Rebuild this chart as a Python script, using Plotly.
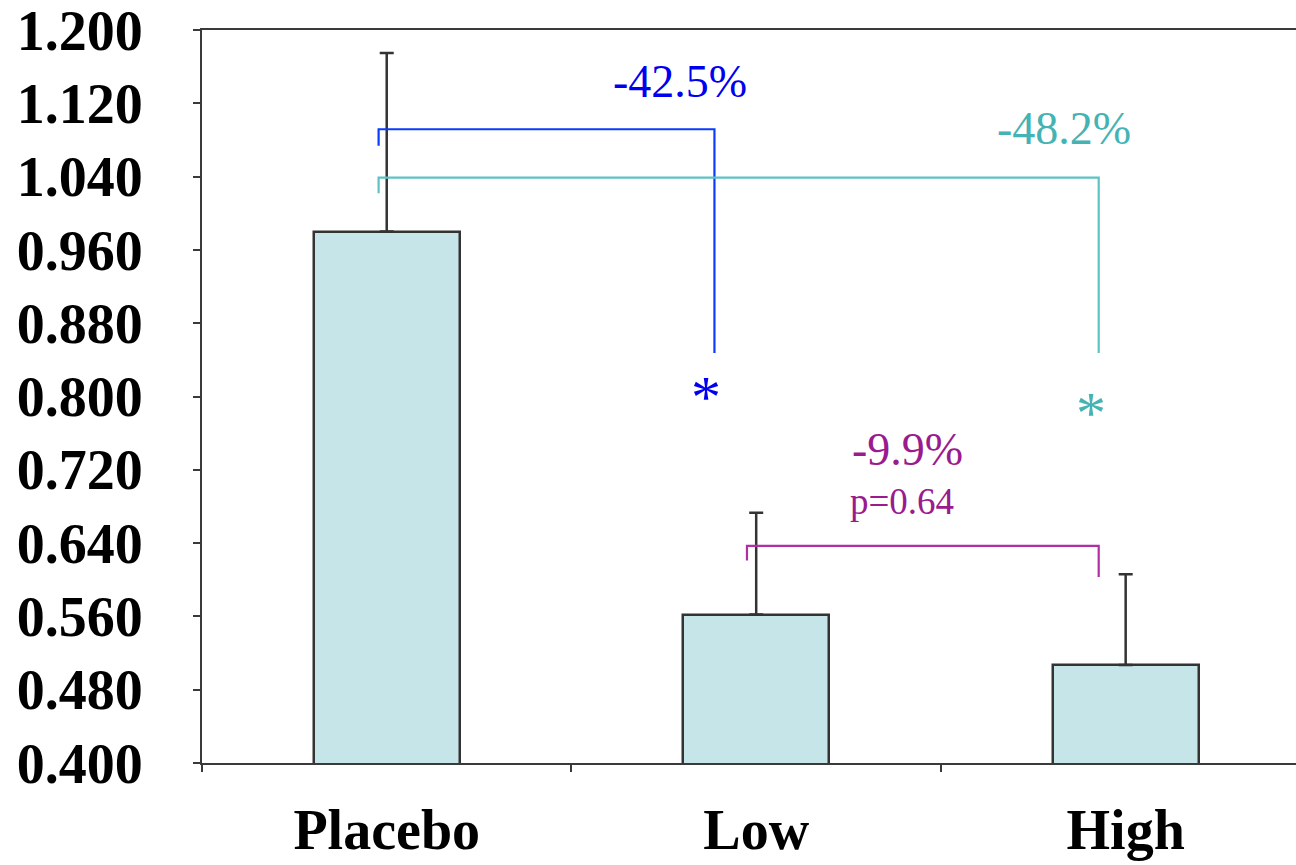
import plotly.graph_objects as go

# Group means and upper error (SEM) per treatment arm
categories = ["Placebo", "Low", "High"]
means = [0.980, 0.562, 0.507]
err_upper = [0.195, 0.111, 0.099]

# Percent-change comparisons between arms
pct_labels = ["-42.5%", "-48.2%", "-9.9%"]
p_label = "p=0.64"

BLUE_TXT, BLUE_LN = "#0000F0", "#0a3cff"
TEAL_TXT, TEAL_LN = "#45b3b3", "#5cc3c3"
PURP_TXT, PURP_LN = "#9a1b8e", "#b02fa5"
AXIS = "#3a3a3a"

fig = go.Figure()
fig.add_trace(go.Bar(
    x=categories,
    y=means,
    width=0.395,
    marker=dict(color="#c6e5e8", line=dict(color="#333333", width=2.5)),
    error_y=dict(type="data", symmetric=False, array=err_upper,
                 arrayminus=[0, 0, 0], color="#333333", thickness=2.5, width=7),
    showlegend=False,
))

# Comparison brackets: (x_left, drop_left, x_right, drop_right, y_top, colour)
# x positions are category indices with small offsets
brackets = [
    (-0.022, 1.0738, 0.887, 0.8476, 1.0917, BLUE_LN),
    (-0.022, 1.0218, 1.927, 0.8476, 1.0389, TEAL_LN),
    (0.975, 0.621, 1.927, 0.603, 0.637, PURP_LN),
]
for x0, y0, x1, y1, ytop, col in brackets:
    fig.add_shape(type="path",
                  path=f"M {x0} {y0} L {x0} {ytop} L {x1} {ytop} L {x1} {y1}",
                  xref="x", yref="y", line=dict(color=col, width=2.2))

serif = "Liberation Serif"
texts = [
    (0.793, 1.1433, pct_labels[0], BLUE_TXT, 46),
    (1.832, 1.092, pct_labels[1], TEAL_TXT, 46),
    (1.410, 0.7418, pct_labels[2], PURP_TXT, 46),
    (1.395, 0.685, p_label, PURP_TXT, 37),
    (0.865, 0.800, "*", BLUE_TXT, 60),
    (1.905, 0.782, "*", TEAL_TXT, 60),
]
for x, y, t, col, sz in texts:
    fig.add_annotation(x=x, y=y, text=t, showarrow=False, xref="x", yref="y",
                       xanchor="center", yanchor="middle",
                       font=dict(family=serif, size=sz, color=col))

fig.update_layout(
    width=1296, height=865,
    margin=dict(l=202, r=0, t=30, b=102, autoexpand=False),
    plot_bgcolor="white", paper_bgcolor="white",
    bargap=0.0,
)
fig.update_xaxes(
    type="category", range=[-0.5, 2.461], automargin=False,
    showline=True, linecolor=AXIS, linewidth=2, mirror=True,
    ticks="outside", tickson="boundaries", ticklen=7, tickcolor=AXIS, tickwidth=1.5,
    tickfont=dict(family=serif, size=56, color="black", weight="bold"),
    ticklabelstandoff=17, ticklabeloverflow="allow",
    showgrid=False, zeroline=False,
)
fig.update_yaxes(
    range=[0.4, 1.2], dtick=0.08, tick0=0.4, tickformat=".3f", automargin=False,
    showline=True, linecolor=AXIS, linewidth=2, mirror=False,
    ticks="outside", ticklen=7, tickcolor=AXIS, tickwidth=1.5,
    tickfont=dict(family=serif, size=56, color="black", weight="bold"),
    ticklabelstandoff=39, ticklabeloverflow="allow",
    showgrid=False, zeroline=False,
)

fig.write_html("out.html")
